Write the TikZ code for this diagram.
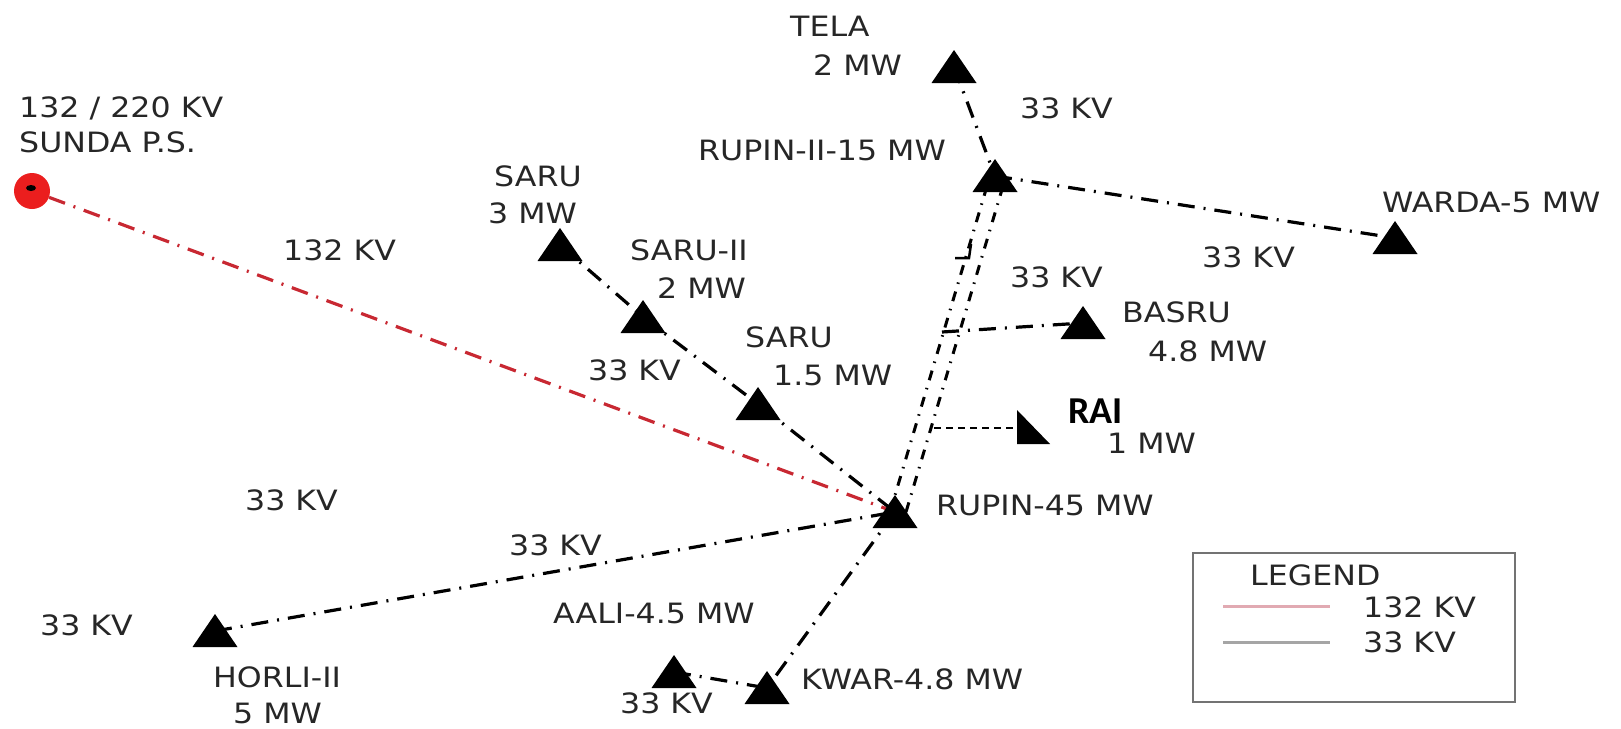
\documentclass[tikz,border=0pt]{standalone}
\usepackage{fontspec}
\setmainfont[FakeStretch=1.13]{DejaVu Sans}
\newfontfamily\raifont{Carlito}
\definecolor{redline}{RGB}{200,40,50}
\definecolor{sundared}{RGB}{235,30,30}
\definecolor{legred}{RGB}{225,170,178}
\definecolor{leggray}{RGB}{165,165,165}
\begin{document}
\begin{tikzpicture}[x=1pt,y=-1pt,
  lbl/.style={anchor=base west, inner sep=0pt, font=\fontsize{28}{30}\selectfont, text=black!85},
  line33/.style={line width=3.2pt, dash pattern=on 17pt off 9pt on 2pt off 9pt, black},
  line132/.style={line width=3.2pt, dash pattern=on 17pt off 9pt on 2pt off 9pt, redline},
  dblline/.style={line width=3pt, dash pattern=on 10pt off 8pt on 1.5pt off 8pt, black},
  raidash/.style={line width=2pt, dash pattern=on 7pt off 5pt, black}]
\useasboundingbox (0,0) rectangle (1621,728);
% station points
\coordinate (tela) at (954,67);
\coordinate (rup2) at (995,176);
\coordinate (warda) at (1395,238);
\coordinate (basru) at (1083,323);
\coordinate (saru3) at (560,245);
\coordinate (saru2) at (643,317);
\coordinate (saru15) at (758,404);
\coordinate (rup45) at (895,512);
\coordinate (horli) at (215,631);
\coordinate (aali) at (674,672);
\coordinate (kwar) at (767,688);
\coordinate (bj) at (942,332);
\coordinate (rj) at (934,428);
\coordinate (rai) at (1017,428);
\node[circle, fill=sundared, minimum size=36pt, inner sep=0pt] (sunda) at (32,191) {};
% connectors
\draw[line132] (sunda) -- (rup45);
\draw[line33] (tela) -- (rup2);
\draw[line33] (rup2) -- (warda);
\draw[line33] (saru3) -- (saru2) -- (saru15) -- (rup45);
\draw[line33] (horli) -- (rup45);
\draw[line33] (rup45) -- (kwar);
\draw[line33] (aali) -- (kwar);
\draw[dblline] ([xshift=-5pt]rup45) -- ([xshift=-5pt]rup2);
\draw[dblline] ([xshift=11pt]rup45) -- ([xshift=11pt]rup2);
\draw[line33] (bj) -- (basru);
\draw[raidash] (rj) -- (rai);
\draw[line width=2.5pt] (971,244) -- (969,258) -- (955,258);
% triangles
\foreach \n in {tela,rup2,warda,basru,saru3,saru2,saru15,rup45,horli,aali,kwar}
  \fill[black] (\n) ++(-22.5,16) -- ++(45,0) -- ++(-22.5,-33) -- cycle;
\fill[black] (rai) ++(0,-18) -- ++(0,34) -- ++(33,0) -- cycle;
\fill[black] (31,188) ellipse (5 and 3);
% labels
\node[lbl] (l1) at (19,117) {132 / 220 KV};
\node[lbl] (l2) at (19,152) {SUNDA P.S.};
\node[lbl] (l3) at (790,36) {TELA};
\node[lbl] (l4) at (813,75) {2 MW};
\node[lbl] (l5) at (1020,118) {33 KV};
\node[lbl] (l6) at (698,160) {RUPIN-II-15 MW};
\node[lbl] (l7) at (1382,212) {WARDA-5 MW};
\node[lbl] (l8) at (1202,267) {33 KV};
\node[lbl] (l9) at (1010,287) {33 KV};
\node[lbl] (l10) at (1122,322) {BASRU};
\node[lbl] (l11) at (1148,361) {4.8 MW};
\node[anchor=base west, inner sep=0pt, font=\raifont\bfseries\fontsize{38}{40}\selectfont] (l12) at (1068,423) {RAI};
\node[lbl] (l13) at (1107,453) {1 MW};
\node[lbl] (l14) at (494,186) {SARU};
\node[lbl] (l15) at (488,223) {3 MW};
\node[lbl] (l16) at (630,260) {SARU-II};
\node[lbl] (l17) at (657,298) {2 MW};
\node[lbl] (l18) at (745,347) {SARU};
\node[lbl] (l19) at (773,385) {1.5 MW};
\node[lbl] (l20) at (588,380) {33 KV};
\node[lbl] (l21) at (283,260) {132 KV};
\node[lbl] (l22) at (245,510) {33 KV};
\node[lbl] (l23) at (40,635) {33 KV};
\node[lbl] (l24) at (213,687) {HORLI-II};
\node[lbl] (l25) at (233,723) {5 MW};
\node[lbl] (l26) at (553,623) {AALI-4.5 MW};
\node[lbl] (l27) at (620,713) {33 KV};
\node[lbl] (l28) at (801,689) {KWAR-4.8 MW};
\node[lbl] (l29) at (936,515) {RUPIN-45 MW};
\node[lbl] (l30) at (509,555) {33 KV};
% legend
\node[draw=black!55, line width=1.6pt, minimum width=322pt, minimum height=149pt, anchor=north west, inner sep=0pt] (legend) at (1192,552) {};
\node[lbl] (lg1) at (1250,585) {LEGEND};
\draw[legred, line width=3pt] (1223,606) -- (1330,606);
\draw[leggray, line width=3pt] (1223,642) -- (1330,642);
\node[lbl] (lg2) at (1363,617) {132 KV};
\node[lbl] (lg3) at (1363,652) {33 KV};
\end{tikzpicture}
\end{document}
